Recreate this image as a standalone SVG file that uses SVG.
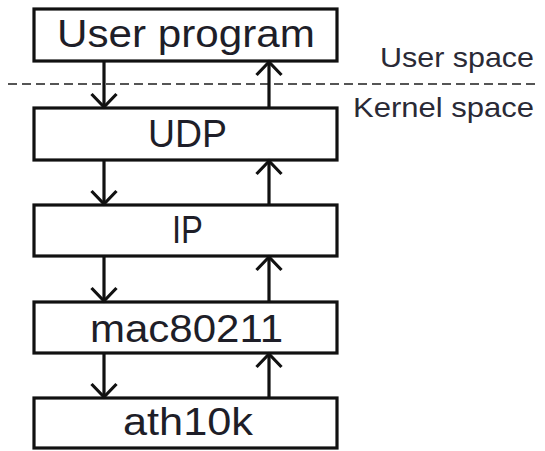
<svg xmlns="http://www.w3.org/2000/svg" width="545" height="451" viewBox="0 0 545 451">
<defs>
<style>
.box{fill:#fff;stroke:#111;stroke-width:3.2}
.lbl{font-family:"Liberation Sans",Arial,sans-serif;font-size:38px;fill:#1e1e28}
.side{font-family:"Liberation Sans",Arial,sans-serif;font-size:28px;fill:#2a2a36}
.arr{stroke:#111;stroke-width:3.2;fill:none;marker-end:url(#ah)}
</style>
<marker id="ah" markerUnits="userSpaceOnUse" markerWidth="30" markerHeight="30" viewBox="-15 -15 30 30" refX="0" refY="0" orient="auto" overflow="visible">
<path d="M-13,-12.5 L0,0 L-13,12.5" fill="none" stroke="#111" stroke-width="3.2"/>
</marker>
</defs>
<rect width="545" height="451" fill="#fff"/>
<line x1="8" y1="84" x2="537" y2="84" stroke="#555" stroke-width="2" stroke-dasharray="9 5"/>
<text class="side" x="380" y="67" textLength="154" lengthAdjust="spacingAndGlyphs">User space</text>
<text class="side" x="353" y="117" textLength="181" lengthAdjust="spacingAndGlyphs">Kernel space</text>
<g id="user-program">
<rect class="box" x="34" y="9" width="303" height="52"/>
<text class="lbl" x="57" y="47" textLength="258" lengthAdjust="spacingAndGlyphs">User program</text>
</g>
<g id="udp">
<rect class="box" x="34" y="108" width="303" height="52"/>
<text class="lbl" x="148" y="147" textLength="79" lengthAdjust="spacingAndGlyphs">UDP</text>
</g>
<g id="ip">
<rect class="box" x="34" y="205" width="303" height="51"/>
<text class="lbl" x="172" y="243" textLength="31" lengthAdjust="spacingAndGlyphs">IP</text>
</g>
<g id="mac80211">
<rect class="box" x="34" y="302" width="303" height="51"/>
<text class="lbl" x="90" y="342" textLength="193" lengthAdjust="spacingAndGlyphs">mac80211</text>
</g>
<g id="ath10k">
<rect class="box" x="34" y="398" width="303" height="50"/>
<text class="lbl" x="123" y="435" textLength="130" lengthAdjust="spacingAndGlyphs">ath10k</text>
</g>
<g id="connectors">
<line class="arr" x1="104" y1="61" x2="104" y2="107"/>
<line class="arr" x1="269" y1="108" x2="269" y2="62"/>
<line class="arr" x1="104" y1="160" x2="104" y2="204"/>
<line class="arr" x1="269" y1="205" x2="269" y2="161"/>
<line class="arr" x1="104" y1="256" x2="104" y2="301"/>
<line class="arr" x1="269" y1="302" x2="269" y2="257"/>
<line class="arr" x1="104" y1="353" x2="104" y2="397"/>
<line class="arr" x1="269" y1="398" x2="269" y2="354"/>
</g>
</svg>
